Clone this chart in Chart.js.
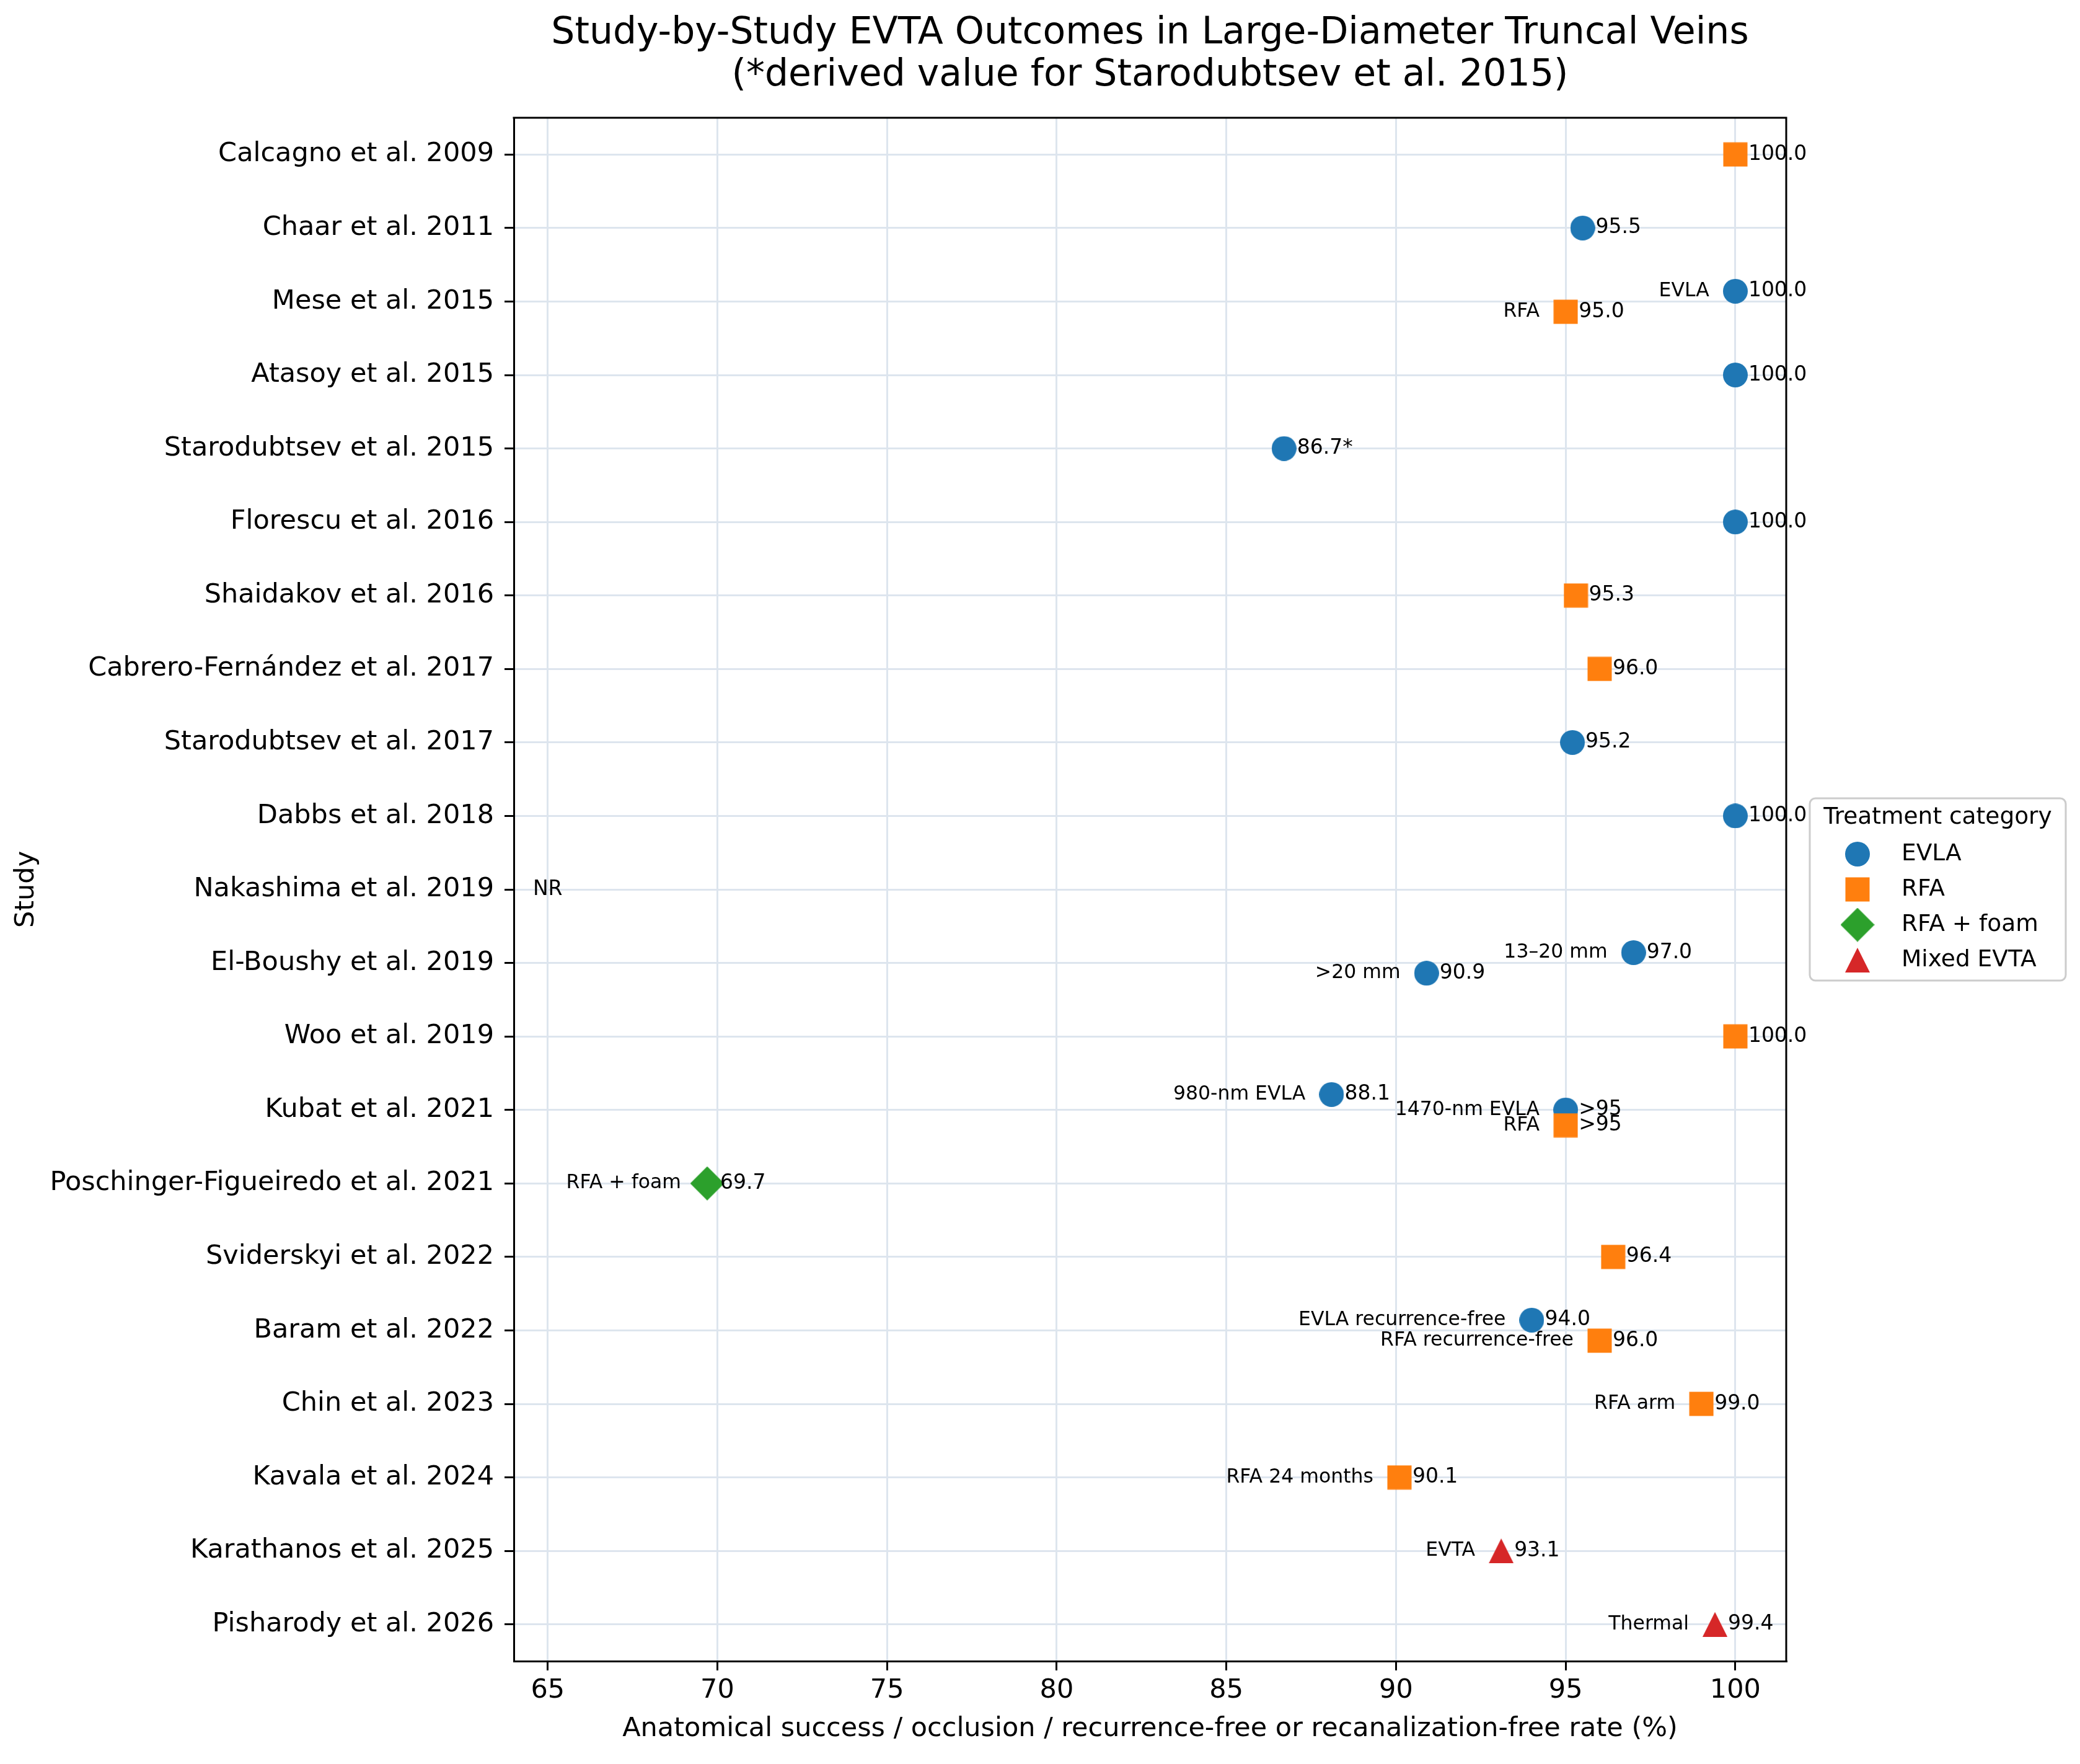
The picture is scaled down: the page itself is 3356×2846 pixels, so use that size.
<!DOCTYPE html>
<html lang="en">

<head>
    <meta charset="UTF-8">
    <title>Study-by-Study EVTA Outcomes</title>
    <script src="https://cdn.jsdelivr.net/npm/chart.js"></script>
    <style>
        body {
            margin: 0;
            background-color: #fff;
        }

        canvas {
            display: block;
            background-color: #fff;
        }
    </style>
</head>

<body>

    <canvas id="grafico" width="3356" height="2846"></canvas>

    <script>
        var studies = ['Calcagno et al. 2009', 'Chaar et al. 2011', 'Mese et al. 2015', 'Atasoy et al. 2015',
            'Starodubtsev et al. 2015', 'Florescu et al. 2016', 'Shaidakov et al. 2016',
            'Cabrero-Fernández et al. 2017', 'Starodubtsev et al. 2017', 'Dabbs et al. 2018',
            'Nakashima et al. 2019', 'El-Boushy et al. 2019', 'Woo et al. 2019', 'Kubat et al. 2021',
            'Poschinger-Figueiredo et al. 2021', 'Sviderskyi et al. 2022', 'Baram et al. 2022',
            'Chin et al. 2023', 'Kavala et al. 2024', 'Karathanos et al. 2025', 'Pisharody et al. 2026'];

        var categories = ['EVLA', 'RFA', 'RFA + foam', 'Mixed EVTA'];
        var categoryColors = ['#1f77b4', '#ff7f0e', '#2ca02c', '#d62728'];

        // one entry per plotted point
        var pointStudy = [0, 1, 2, 2, 3, 4, 5, 6, 7, 8, 9, 11, 11, 12, 13, 13, 13, 14, 15, 16, 16, 17, 18, 19, 20];
        var pointCategory = ['RFA', 'EVLA', 'EVLA', 'RFA', 'EVLA', 'EVLA', 'EVLA', 'RFA', 'RFA', 'EVLA', 'EVLA',
            'EVLA', 'EVLA', 'RFA', 'EVLA', 'EVLA', 'RFA', 'RFA + foam', 'RFA', 'EVLA', 'RFA', 'RFA', 'RFA',
            'Mixed EVTA', 'Mixed EVTA'];
        var pointValue = [100.0, 95.5, 100.0, 95.0, 100.0, 86.7, 100.0, 95.3, 96.0, 95.2, 100.0,
            97.0, 90.9, 100.0, 88.1, 95, 95, 69.7, 96.4, 94.0, 96.0, 99.0, 90.1, 93.1, 99.4];
        var pointText = ['100.0', '95.5', '100.0', '95.0', '100.0', '86.7*', '100.0', '95.3', '96.0', '95.2', '100.0',
            '97.0', '90.9', '100.0', '88.1', '>95', '>95', '69.7', '96.4', '94.0', '96.0', '99.0', '90.1', '93.1', '99.4'];
        var pointLabel = ['', '', 'EVLA', 'RFA', '', '', '', '', '', '', '',
            '13–20 mm', '>20 mm', '', '980-nm EVLA', '1470-nm EVLA', 'RFA', 'RFA + foam', '',
            'EVLA recurrence-free', 'RFA recurrence-free', 'RFA arm', 'RFA 24 months', 'EVTA', 'Thermal'];

        var notReported = [10];
        var xTicks = [65, 70, 75, 80, 85, 90, 95, 100];

        var FONT = '"DejaVu Sans", sans-serif';

        // vertical spread when a study has several points
        var pointRow = [];
        pointStudy.forEach(function (s, i) {
            var same = [];
            pointStudy.forEach(function (t, j) { if (t === s) same.push(j); });
            var n = same.length, k = same.indexOf(i);
            var off = n > 1 ? -0.07 * n + k * (0.14 * n / (n - 1)) : 0;
            pointRow.push(s + off);
        });

        function makeMarker(shape, color) {
            var size = shape === 'diamond' ? 55 : 40;
            var c = document.createElement('canvas');
            c.width = size;
            c.height = size;
            var g = c.getContext('2d');
            g.fillStyle = color;
            g.beginPath();
            if (shape === 'circle') {
                g.arc(size / 2, size / 2, size / 2, 0, Math.PI * 2);
            } else if (shape === 'square') {
                g.rect(0.5, 0.5, size - 1, size - 1);
            } else if (shape === 'diamond') {
                g.moveTo(size / 2, 0);
                g.lineTo(size, size / 2);
                g.lineTo(size / 2, size);
                g.lineTo(0, size / 2);
                g.closePath();
            } else {
                g.moveTo(size / 2, 0);
                g.lineTo(size, size);
                g.lineTo(0, size);
                g.closePath();
            }
            g.fill();
            return c;
        }

        var markerShapes = ['circle', 'square', 'diamond', 'triangle'];
        var markers = categories.map(function (c, i) { return makeMarker(markerShapes[i], categoryColors[i]); });

        var datasets = categories.map(function (cat, ci) {
            var pts = [];
            pointCategory.forEach(function (pc, i) {
                if (pc === cat) pts.push({ x: pointValue[i], y: pointRow[i] });
            });
            return {
                label: cat,
                data: pts,
                pointStyle: markers[ci],
                pointRadius: 20,
                backgroundColor: categoryColors[ci],
                borderColor: categoryColors[ci],
                order: categories.length - ci
            };
        });

        var annotations = {
            id: 'annotations',
            afterDatasetsDraw: function (chart) {
                var ctx = chart.ctx, sx = chart.scales.x, sy = chart.scales.y, a = chart.chartArea;
                ctx.save();
                ctx.strokeStyle = '#000';
                ctx.lineWidth = 3;
                ctx.beginPath();
                ctx.moveTo(a.left - 1.5, a.top);
                ctx.lineTo(a.right, a.top);
                ctx.lineTo(a.right, a.bottom + 1.5);
                ctx.stroke();

                ctx.fillStyle = '#000';
                ctx.textBaseline = 'middle';
                for (var i = 0; i < pointValue.length; i++) {
                    var px = sx.getPixelForValue(pointValue[i]);
                    var py = sy.getPixelForValue(pointRow[i]);
                    ctx.font = '33px ' + FONT;
                    ctx.textAlign = 'left';
                    ctx.fillText(pointText[i], px + 21, py);
                    if (pointLabel[i]) {
                        ctx.font = '31.5px ' + FONT;
                        ctx.textAlign = 'right';
                        ctx.fillText(pointLabel[i], px - 42, py);
                    }
                }
                ctx.font = '33px ' + FONT;
                ctx.textAlign = 'center';
                notReported.forEach(function (s) {
                    ctx.fillText('NR', sx.getPixelForValue(65), sy.getPixelForValue(s));
                });
                ctx.restore();
            },
            afterDraw: function (chart) {
                var ctx = chart.ctx, a = chart.chartArea;
                ctx.save();
                ctx.fillStyle = '#000';
                ctx.font = '60px ' + FONT;
                ctx.textAlign = 'center';
                ctx.textBaseline = 'alphabetic';
                var cx = (a.left + a.right) / 2;
                ctx.fillText('Study-by-Study EVTA Outcomes in Large-Diameter Truncal Veins', cx, 70);
                ctx.fillText('(*derived value for Starodubtsev et al. 2015)', cx, 138);

                // legend
                var w = 413, h = 294;
                var left = a.right + 38, top = (a.top + a.bottom) / 2 - h / 2;
                ctx.fillStyle = 'rgba(255,255,255,0.8)';
                ctx.strokeStyle = '#cccccc';
                ctx.lineWidth = 3;
                ctx.beginPath();
                ctx.roundRect(left, top, w, h, 9);
                ctx.fill();
                ctx.stroke();
                ctx.fillStyle = '#000';
                ctx.font = '37.5px ' + FONT;
                ctx.textBaseline = 'middle';
                ctx.fillText('Treatment category', left + w / 2, top + 31);
                ctx.textAlign = 'left';
                categories.forEach(function (c, i) {
                    var yy = top + 90 + i * 57;
                    var m = markers[i];
                    ctx.drawImage(m, left + 77 - m.width / 2, yy - m.height / 2);
                    ctx.fillText(c, left + 148, yy);
                });
                ctx.restore();
            }
        };

        var grid = {
            color: '#dde5ee',
            lineWidth: 3,
            tickColor: '#000',
            tickWidth: 3,
            tickLength: 15
        };

        new Chart(document.getElementById('grafico').getContext('2d'), {
            type: 'scatter',
            data: { datasets: datasets },
            plugins: [annotations],
            options: {
                responsive: false,
                animation: false,
                devicePixelRatio: 1,
                layout: { padding: { top: 190, right: 474, left: 0, bottom: 0 } },
                plugins: {
                    legend: { display: false },
                    tooltip: { enabled: false }
                },
                scales: {
                    x: {
                        type: 'linear',
                        min: 64,
                        max: 101.5,
                        afterBuildTicks: function (s) { s.ticks = xTicks.map(function (v) { return { value: v }; }); },
                        afterFit: function (s) { s.height = 166; },
                        ticks: { color: '#000', font: { family: FONT, size: 43 }, padding: 7, autoSkip: false, maxRotation: 0 },
                        grid: grid,
                        border: { color: '#000', width: 3 },
                        title: {
                            display: true,
                            text: 'Anatomical success / occlusion / recurrence-free or recanalization-free rate (%)',
                            color: '#000',
                            font: { family: FONT, size: 43 },
                            padding: { top: 0, bottom: 30 }
                        }
                    },
                    y: {
                        type: 'linear',
                        min: -0.5,
                        max: 20.5,
                        reverse: true,
                        afterBuildTicks: function (s) { s.ticks = studies.map(function (n, i) { return { value: i }; }); },
                        afterFit: function (s) { s.width = 829; },
                        ticks: {
                            color: '#000',
                            font: { family: FONT, size: 43 },
                            padding: 17,
                            autoSkip: false,
                            callback: function (v) { return studies[v]; }
                        },
                        grid: grid,
                        border: { color: '#000', width: 3 },
                        title: {
                            display: true,
                            text: 'Study',
                            color: '#000',
                            font: { family: FONT, size: 43 },
                            padding: { top: 17, bottom: 0 }
                        }
                    }
                }
            }
        });
    </script>

</body>

</html>
